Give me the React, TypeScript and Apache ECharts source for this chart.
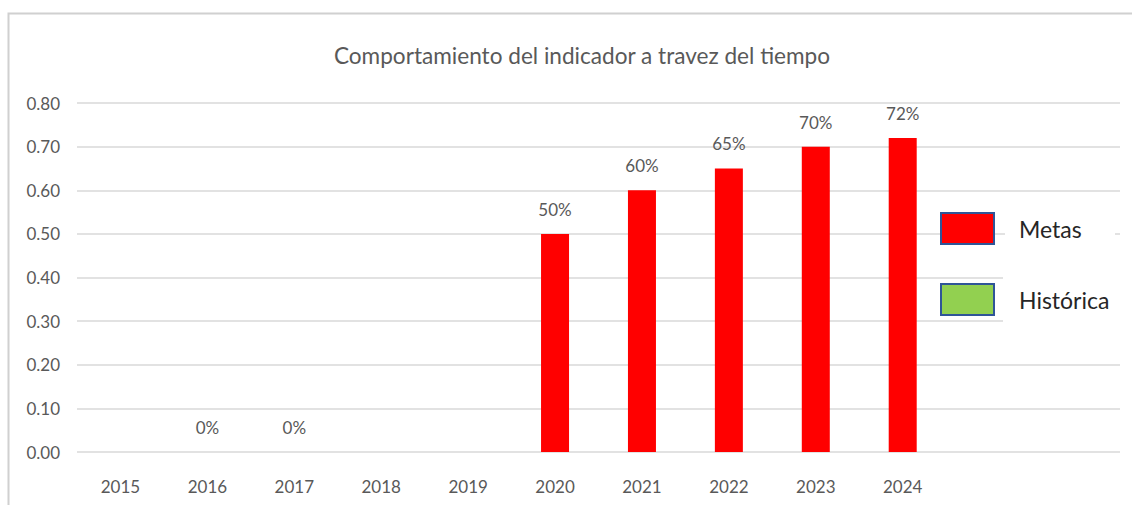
import React, { useEffect, useRef } from "react";
import * as echarts from "echarts";

const years = ["2015", "2016", "2017", "2018", "2019", "2020", "2021", "2022", "2023", "2024"];
const metas = [null, null, null, null, null, 0.5, 0.6, 0.65, 0.7, 0.72];
const historica = [null, 0, 0, null, null, null, null, null, null, null];
const yTicks = { min: 0, max: 0.8, interval: 0.1 };

const FONT = "Lato";
const GRAY = "#595959";

export default function App() {
  const ref = useRef<HTMLDivElement>(null);
  useEffect(() => {
    if (!ref.current) return;
    const chart = echarts.init(ref.current, undefined, { renderer: "svg" });
    const pctLabel = {
      show: true,
      position: "top",
      distance: 16,
      fontFamily: FONT,
      fontSize: 17,
      color: GRAY,
      formatter: (p: any) => (p.value == null ? "" : Math.round(p.value * 100) + "%"),
    };
    chart.setOption({
      animation: false,
      backgroundColor: "#ffffff",
      textStyle: { fontFamily: FONT },
      title: {
        text: "Comportamiento del indicador a travez del tiempo",
        left: 577,
        top: 39,
        textAlign: "center",
        textStyle: { fontFamily: FONT, fontSize: 22.6, fontWeight: "normal", color: GRAY },
      },
      grid: { left: 77, right: 12, top: 103, bottom: 53, containLabel: false },
      xAxis: {
        type: "category",
        data: years,
        max: 11,
        axisLine: { show: false },
        axisTick: { show: false },
        axisLabel: {
          margin: 26,
          fontFamily: FONT,
          fontSize: 17,
          color: GRAY,
          interval: 0,
          formatter: (v: any) => (years.indexOf(String(v)) >= 0 ? String(v) : ""),
        },
        splitLine: { show: false },
      },
      yAxis: {
        type: "value",
        min: yTicks.min,
        max: yTicks.max,
        interval: yTicks.interval,
        axisLine: { show: false },
        axisTick: { show: false },
        axisLabel: {
          margin: 17,
          fontFamily: FONT,
          fontSize: 17,
          color: GRAY,
          formatter: (v: number) => v.toFixed(2),
        },
        splitLine: { show: true, lineStyle: { color: "#d9d9d9", width: 1.5 } },
      },
      legend: {
        orient: "vertical",
        left: 935,
        top: 207,
        itemWidth: 53,
        itemHeight: 31,
        itemGap: 38,
        icon: "rect",
        textStyle: { fontFamily: FONT, fontSize: 23, color: "#262626", padding: [6, 0, 0, 20] },
        data: [
          { name: "Metas", itemStyle: { color: "#ff0000", borderColor: "#2f5597", borderWidth: 2 } },
          { name: "Histórica", itemStyle: { color: "#92d050", borderColor: "#2f5597", borderWidth: 2 } },
        ],
      },
      graphic: [
        {
          type: "rect",
          z: 3,
          shape: { x: 1003, y: 250, width: 125, height: 80 },
          style: { fill: "#ffffff" },
          silent: true,
        },
        {
          type: "rect",
          z: 3,
          shape: { x: 1005, y: 225, width: 110, height: 20 },
          style: { fill: "#ffffff" },
          silent: true,
        },
        {
          type: "rect",
          z: 0,
          shape: { x: 8.5, y: 13.5, width: 1200, height: 600 },
          style: { fill: "none", stroke: "#d0d0d0", lineWidth: 2 },
          silent: true,
        },
      ],
      series: [
        {
          name: "Metas",
          type: "bar",
          data: metas,
          barWidth: 28,
          barGap: "-100%",
          itemStyle: { color: "#ff0000" },
          label: pctLabel,
        },
        {
          name: "Histórica",
          type: "bar",
          data: historica,
          barWidth: 28,
          barGap: "-100%",
          itemStyle: { color: "#92d050" },
          label: pctLabel,
        },
      ],
    });
    return () => chart.dispose();
  }, []);
  return (
    <div
      ref={ref}
      style={{ position: "fixed", left: 0, top: 0, width: 1132, height: 505 }}
    />
  );
}
